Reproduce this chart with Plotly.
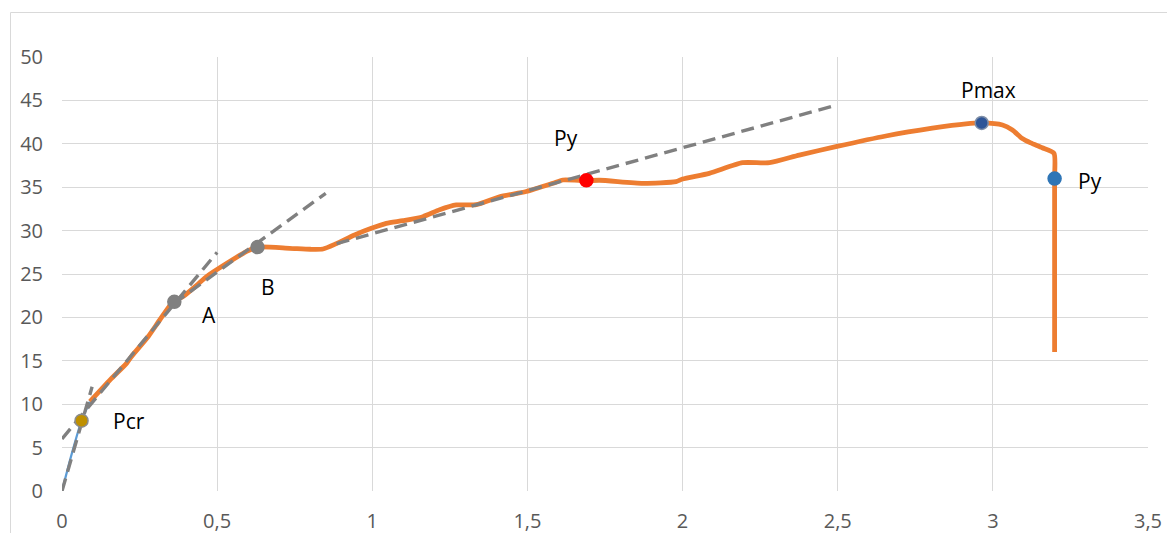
import plotly.graph_objects as go

# Load–displacement curve (main response)
curve_x = [0.09, 0.155, 0.208, 0.224, 0.278, 0.315, 0.358, 0.39, 0.434, 0.466, 0.53, 0.595, 0.63,
           0.734, 0.8, 0.841, 0.884, 0.943, 0.997, 1.045, 1.099, 1.163, 1.217, 1.271, 1.335, 1.41,
           1.496, 1.582, 1.614, 1.69, 1.732, 1.872, 1.979, 2.0, 2.086, 2.193, 2.28, 2.376, 2.494,
           2.655, 2.805, 2.913, 2.964, 3.031, 3.063, 3.095, 3.122, 3.159, 3.197, 3.199, 3.199]
curve_y = [10.3, 12.8, 14.7, 15.5, 17.8, 19.7, 21.8, 22.4, 23.7, 24.7, 26.2, 27.6, 28.1,
           27.96, 27.85, 27.88, 28.5, 29.5, 30.26, 30.84, 31.14, 31.6, 32.4, 32.95, 33.0, 33.9,
           34.5, 35.45, 35.83, 35.75, 35.8, 35.45, 35.64, 35.94, 36.6, 37.82, 37.82, 38.7, 39.67,
           40.9, 41.8, 42.3, 42.4, 42.17, 41.6, 40.6, 40.1, 39.55, 38.9, 36.0, 16.0]

# Initial (uncracked) branch
initial_x = [0, 0.03, 0.063, 0.09]
initial_y = [0, 4.1, 8.1, 10.3]

# Tangent lines used to locate the characteristic points
tangent_1_x = [0, 0.097]
tangent_1_y = [0, 12]
tangent_2_x = [0, 0.5]
tangent_2_y = [6, 27.5]
tangent_3_x = [0.36, 0.85]
tangent_3_y = [21.6, 34.3]
tangent_4_x = [0.885, 2.48]
tangent_4_y = [28.5, 44.3]

# Characteristic points
point_names = ["Pcr", "A", "B", "Py", "Pmax", "Py"]
point_x = [0.063, 0.362, 0.63, 1.69, 2.964, 3.199]
point_y = [8.1, 21.8, 28.1, 35.8, 42.4, 36.0]

x_tick_vals = [0, 0.5, 1, 1.5, 2, 2.5, 3, 3.5]
x_tick_text = ["0", "0,5", "1", "1,5", "2", "2,5", "3", "3,5"]
y_tick_vals = [0, 5, 10, 15, 20, 25, 30, 35, 40, 45, 50]
y_tick_text = ["0", "5", "10", "15", "20", "25", "30", "35", "40", "45", "50"]

ORANGE = "#ED7D31"
GREY = "#808080"

fig = go.Figure()

fig.add_trace(go.Scatter(x=initial_x, y=initial_y, mode="lines",
                         line=dict(color="#5B9BD5", width=2.2, shape="spline", smoothing=0.6),
                         hoverinfo="skip"))
fig.add_trace(go.Scatter(x=curve_x, y=curve_y, mode="lines",
                         line=dict(color=ORANGE, width=4.8, shape="spline", smoothing=0.6),
                         hoverinfo="skip"))

for tx, ty in [(tangent_1_x, tangent_1_y), (tangent_2_x, tangent_2_y),
               (tangent_3_x, tangent_3_y), (tangent_4_x, tangent_4_y)]:
    fig.add_trace(go.Scatter(x=tx, y=ty, mode="lines",
                             line=dict(color=GREY, width=3.4, dash="13px,7px"),
                             hoverinfo="skip"))

marker_fill = ["#BF9000", "#808080", "#808080", "#FF0000", "#2F5597", "#2E75B6"]
marker_edge = ["#8C8C8C", "#808080", "#808080", "#FF0000", "#7F8FA8", "#2E75B6"]
fig.add_trace(go.Scatter(x=point_x, y=point_y, mode="markers",
                         marker=dict(size=13, color=marker_fill,
                                     line=dict(color=marker_edge, width=1.5)),
                         hoverinfo="skip"))

# Label offsets (pixels) from each characteristic point
label_shift = [(47, 0), (35, -13), (11, -40), (-20, 42), (7, 33), (35, -2)]
for name, px, py, (dx, dy) in zip(point_names, point_x, point_y, label_shift):
    fig.add_annotation(x=px, y=py, text=name, showarrow=False,
                       xshift=dx, yshift=dy, xanchor="center", yanchor="middle",
                       font=dict(family="Open Sans", size=21, color="#000000"))

axis_common = dict(showgrid=True, gridcolor="#D9D9D9", gridwidth=1.3,
                   zeroline=False, showline=False, ticks="", automargin=False,
                   tickfont=dict(family="Open Sans", size=20, color="#595959"))

fig.update_xaxes(range=[0, 3.5], tickvals=x_tick_vals, ticktext=x_tick_text,
                 ticklabelstandoff=16, **axis_common)
fig.update_yaxes(range=[0, 50], tickvals=y_tick_vals, ticktext=y_tick_text,
                 ticklabelstandoff=18, **axis_common)

# Chart frame
fig.add_shape(type="rect", xref="paper", yref="paper",
              x0=-0.0474, x1=1.2, y0=-0.3, y1=1.1025,
              line=dict(color="#D9D9D9", width=1), fillcolor="rgba(0,0,0,0)", layer="below")

fig.update_layout(width=1167, height=533, showlegend=False,
                  margin=dict(l=62, r=19, t=57, b=42),
                  plot_bgcolor="white", paper_bgcolor="white")

fig.write_html("out.html")
